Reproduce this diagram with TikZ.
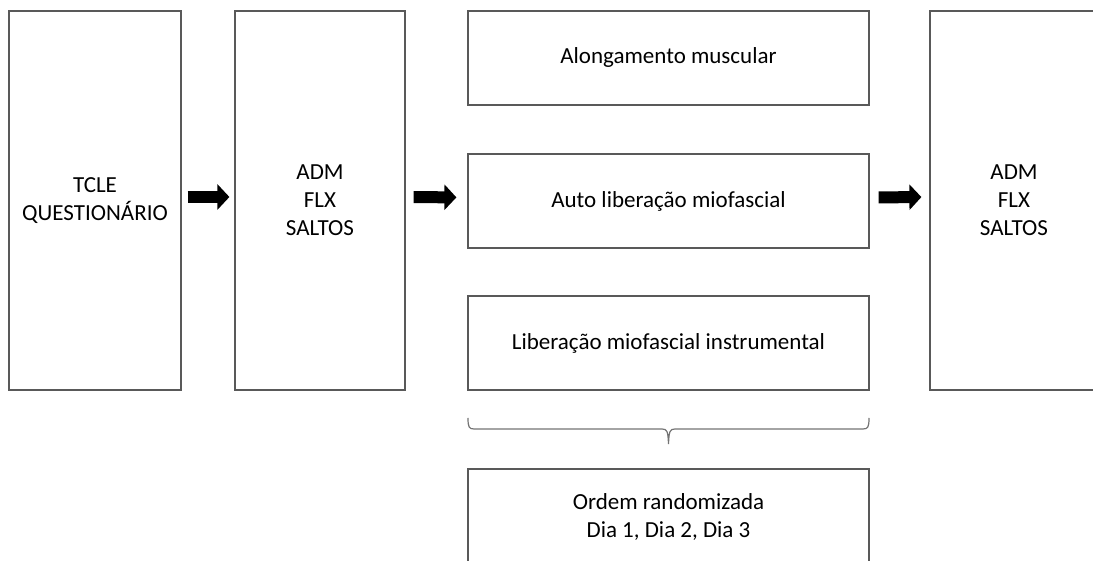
\documentclass[tikz,border=0pt]{standalone}
\usepackage{fontspec}
\setmainfont{Carlito}
\usetikzlibrary{arrows.meta}
\tikzset{
  box/.style={draw=black!65,line width=1.2pt,align=center,inner sep=0pt,
    font=\fontsize{23}{28}\selectfont},
  bigarrow/.style={line width=12pt,-{Triangle[length=12pt,width=25pt]}},
  brace/.style={draw=black!55,line width=1.2pt}
}
\begin{document}
\begin{tikzpicture}[x=1pt,y=1pt]
        \useasboundingbox (0,0) rectangle (1093,561);
        \draw (95,360.5) node[box,minimum width=172pt,minimum height=379pt](tcle){TCLE\\QUESTIONÁRIO};
        \draw (320,360.5) node[box,minimum width=170pt,minimum height=379pt](pre){ADM\\FLX\\SALTOS};
        \draw (668.5,503) node[box,minimum width=401pt,minimum height=94pt](along){Alongamento muscular};
        \draw (668.5,360) node[box,minimum width=401pt,minimum height=94pt](auto){Auto liberação miofascial};
        \draw (668.5,218) node[box,minimum width=401pt,minimum height=94pt](instr){Liberação miofascial instrumental};
        \draw (1014,360.5) node[box,minimum width=168pt,minimum height=379pt](post){ADM\\FLX\\SALTOS};
        \draw (668.5,44) node[box,minimum width=401pt,minimum height=96pt](ordem){Ordem randomizada\\Dia 1, Dia 2, Dia 3};
        \draw[bigarrow,shorten <=6pt,shorten >=5pt] ([yshift=3.5pt]tcle.east) -- ([yshift=3.5pt]pre.west);
        \draw[bigarrow,shorten <=8pt,shorten >=11pt] ([yshift=3.5pt]pre.east) -- ([yshift=3.5pt]auto.west);
        \draw[bigarrow,shorten <=9pt,shorten >=8pt] ([yshift=3.5pt]auto.east) -- ([yshift=3.5pt]post.west);
        % chave sob as tres intervencoes
        \draw[brace] (468,143) .. controls (468,134) and (469,132) .. (474,132) -- (662,132)
          .. controls (667,132) and (668,130) .. (668.5,117)
          .. controls (669,130) and (670,132) .. (675,132) -- (863,132)
          .. controls (868,132) and (869,134) .. (869,143);
\end{tikzpicture}
\end{document}
